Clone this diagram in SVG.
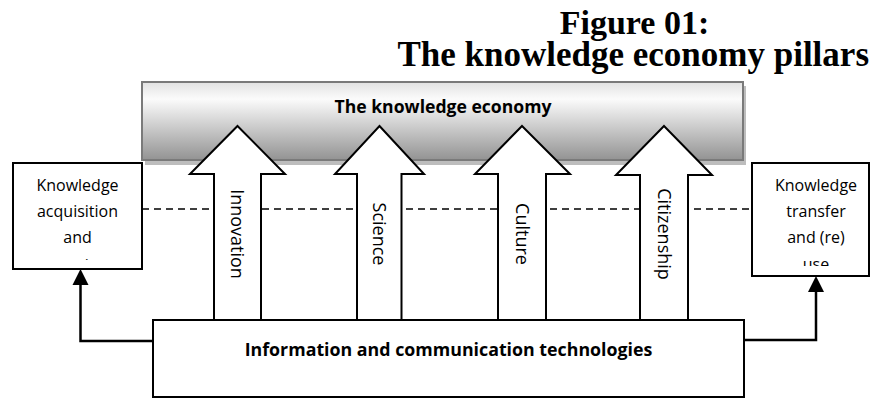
<svg xmlns="http://www.w3.org/2000/svg" width="871" height="399" viewBox="0 0 871 399">
<style>
.box{fill:#fff;stroke:#000;stroke-width:2}
.arrow{fill:#fff;stroke:#000;stroke-width:2;stroke-linejoin:miter}
.lbl{font-family:"Open Sans","Liberation Sans",sans-serif;font-size:16px;fill:#000;text-anchor:middle}
.vlbl{font-family:"Open Sans","Liberation Sans",sans-serif;font-size:18px;fill:#000;text-anchor:middle}
.bold{font-family:"Open Sans","Liberation Sans",sans-serif;font-weight:bold;fill:#000;text-anchor:middle}
.title{font-family:"Liberation Serif","Times New Roman",serif;font-weight:bold;font-size:34px;fill:#000}
.conn{fill:none;stroke:#000;stroke-width:2.5}
.dash{fill:none;stroke:#000;stroke-width:1.5;stroke-dasharray:7,5}
</style>
<defs>
<linearGradient id="g" x1="0" y1="0" x2="0" y2="1">
<stop offset="0" stop-color="#e2e2e2"/>
<stop offset="0.22" stop-color="#fbfbfb"/>
<stop offset="1" stop-color="#939393"/>
</linearGradient>
<clipPath id="clipR"><rect x="752" y="163" width="118" height="103"/></clipPath>
<clipPath id="clipL"><rect x="13" y="163" width="129" height="97"/></clipPath>
</defs>

<g id="title">
<text class="title"><tspan x="634.5" y="34" text-anchor="middle">Figure 01:</tspan><tspan x="869" y="66" text-anchor="end" font-size="35">The knowledge economy pillars</tspan></text>
</g>

<g id="connectors">
<line class="dash" x1="142" y1="209" x2="752" y2="209"/>
<path class="conn" d="M153,341 H80.5 V285"/>
<path d="M80.5,269 L88.5,285 L72.5,285 Z" fill="#000"/>
<path class="conn" d="M743,340 H816 V292"/>
<path d="M816,276 L824,292 L808,292 Z" fill="#000"/>
</g>

<g id="knowledge-economy">
<rect x="145" y="86" width="601" height="79" fill="#bdbdbd"/>
<rect x="142" y="82" width="601" height="78" fill="url(#g)" stroke="#7a7a7a" stroke-width="2"/>
<text class="bold" x="443" y="113" font-size="17.6">The knowledge economy</text>
</g>

<g id="knowledge-acquisition">
<rect class="box" x="13" y="163" width="129" height="106"/>
<text class="lbl" x="77.5" y="191">Knowledge</text>
<text class="lbl" x="77.5" y="217">acquisition</text>
<text class="lbl" x="77.5" y="243">and</text>
<text class="lbl" x="77.5" y="271" clip-path="url(#clipL)">creation</text>
</g>

<g id="knowledge-transfer">
<rect class="box" x="752" y="163" width="117" height="113"/>
<text class="lbl" x="816" y="191">Knowledge</text>
<text class="lbl" x="816" y="217">transfer</text>
<text class="lbl" x="816" y="243">and (re)</text>
<text class="lbl" x="816" y="270" clip-path="url(#clipR)">use</text>
</g>

<g id="innovation">
<path class="arrow" d="M237.5,126 L285,174 L261,174 L261,320 L214,320 L214,174 L190,174 Z"/>
<text class="vlbl" transform="translate(231,234) rotate(90)">Innovation</text>
</g>
<g id="science">
<path class="arrow" d="M379.5,126 L424,174 L401.5,174 L401.5,320 L357,320 L357,174 L335,174 Z"/>
<text class="vlbl" transform="translate(373,234) rotate(90)">Science</text>
</g>
<g id="culture">
<path class="arrow" d="M522,126 L570,174 L546,174 L546,320 L498,320 L498,174 L475,174 Z"/>
<text class="vlbl" transform="translate(516,234) rotate(90)">Culture</text>
</g>
<g id="citizenship">
<path class="arrow" d="M664,126 L712,175 L688,175 L688,320 L640,320 L640,175 L616,175 Z"/>
<text class="vlbl" transform="translate(658,234) rotate(90)">Citizenship</text>
</g>

<g id="ict">
<rect class="box" x="153" y="320" width="591" height="77"/>
<text class="bold" x="448.5" y="356" font-size="17.8">Information and communication technologies</text>
</g>
</svg>
